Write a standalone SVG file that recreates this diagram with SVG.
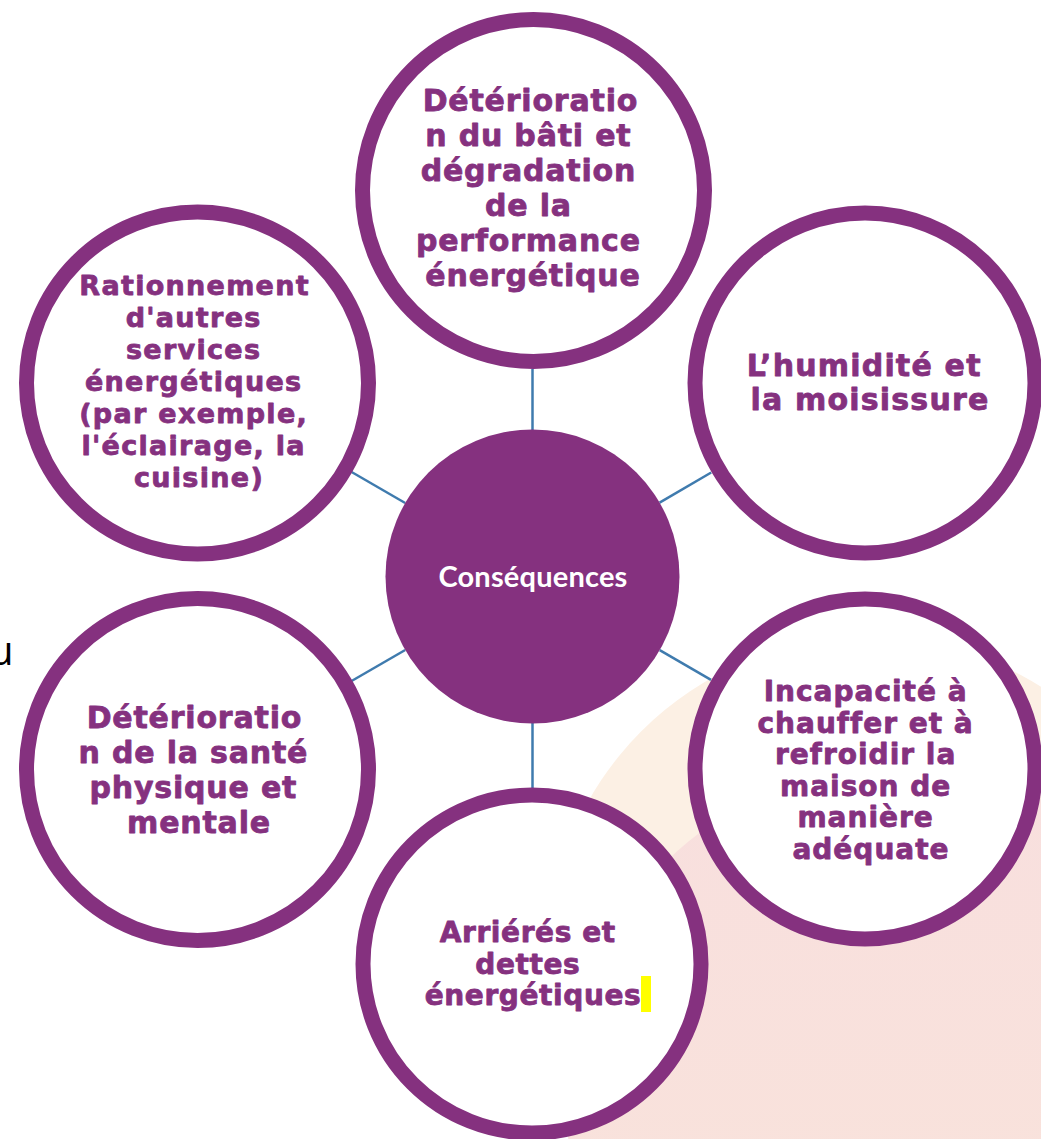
<svg xmlns="http://www.w3.org/2000/svg" width="1041" height="1139" viewBox="0 0 1041 1139">
  <defs>
    <style>
      .ring { fill: #ffffff; stroke: #85317F; stroke-width: 15; }
      .hub { fill: #85317F; }
      .conn { stroke: #3F7BAE; stroke-width: 2.5; fill: none; }
      .lbl { font-family: "DejaVu Sans", Verdana, sans-serif; font-weight: bold; fill: #85317F; stroke: #85317F; stroke-width: 0.8; stroke-linejoin: round; text-anchor: middle; }
      .hubtxt { font-family: Lato, "Open Sans", "Liberation Sans", sans-serif; font-weight: bold; fill: #ffffff; text-anchor: middle; font-size: 29px; letter-spacing: 0.2px; }
    </style>
    <linearGradient id="pinkGrad" x1="0" y1="0" x2="0" y2="1">
      <stop offset="0" stop-color="#F8DFDE"/>
      <stop offset="1" stop-color="#F9E4DA"/>
    </linearGradient>
  </defs>

  <rect x="0" y="0" width="1041" height="1139" fill="#ffffff"/>

  <g id="background">
    <circle cx="869" cy="959" r="322" fill="#FCF0E4"/>
    <circle cx="900" cy="1100" r="334" fill="url(#pinkGrad)"/>
  </g>

  <text x="-11" y="665" font-family="'Open Sans', 'Liberation Sans', sans-serif" font-size="40" fill="#000000">u</text>

  <g id="connectors">
    <line class="conn" x1="532.5" y1="369" x2="532.5" y2="430"/>
    <line class="conn" x1="532.5" y1="723" x2="532.5" y2="788"/>
    <line class="conn" x1="659.6" y1="502.6" x2="711.2" y2="472.5"/>
    <line class="conn" x1="659.7" y1="650.1" x2="711" y2="679.8"/>
    <line class="conn" x1="405.2" y1="503" x2="351.6" y2="472"/>
    <line class="conn" x1="405.2" y1="650" x2="351.6" y2="681"/>
  </g>

  <g id="node-center">
    <circle class="hub" cx="532.5" cy="576.5" r="147"/>
    <text class="hubtxt" x="533" y="587">Conséquences</text>
  </g>

  <g id="node-top">
    <circle class="ring" cx="533.5" cy="190.5" r="171"/>
    <text class="lbl" font-size="30" letter-spacing="0.8">
      <tspan x="536" y="111">Détérioratio</tspan>
      <tspan x="534" y="146">n du bâti et</tspan>
      <tspan x="534" y="181">dégradation</tspan>
      <tspan x="534" y="216">de la</tspan>
      <tspan x="534" y="251">performance</tspan>
      <tspan x="533" y="286">énergétique</tspan>
    </text>
  </g>

  <g id="node-right-upper">
    <circle class="ring" cx="865" cy="383" r="170"/>
    <text class="lbl" font-size="30" letter-spacing="1.2">
      <tspan x="870" y="376">L’humidité et</tspan>
      <tspan x="870" y="410">la moisissure</tspan>
    </text>
  </g>

  <g id="node-right-lower">
    <circle class="ring" cx="865" cy="769" r="170"/>
    <text class="lbl" font-size="28" letter-spacing="1">
      <tspan x="871" y="701">Incapacité à</tspan>
      <tspan x="871" y="732.5">chauffer et à</tspan>
      <tspan x="871" y="764">refroidir la</tspan>
      <tspan x="871" y="795.5">maison de</tspan>
      <tspan x="871" y="827">manière</tspan>
      <tspan x="871" y="858.5">adéquate</tspan>
    </text>
  </g>

  <g id="node-bottom">
    <circle class="ring" cx="532" cy="964" r="169"/>
    <text class="lbl" font-size="28" letter-spacing="0.6">
      <tspan x="533" y="942">Arriérés et</tspan>
      <tspan x="533" y="973.5">dettes</tspan>
      <tspan x="533" y="1005">énergétiques</tspan>
    </text>
    <rect x="641" y="976" width="10" height="36" fill="#FFFF00"/>
  </g>

  <g id="node-left-lower">
    <circle class="ring" cx="197.5" cy="769.5" r="171"/>
    <text class="lbl" font-size="30" letter-spacing="0.8">
      <tspan x="200" y="728">Détérioratio</tspan>
      <tspan x="199" y="763">n de la santé</tspan>
      <tspan x="199" y="798">physique et</tspan>
      <tspan x="199" y="833">mentale</tspan>
    </text>
  </g>

  <g id="node-left-upper">
    <circle class="ring" cx="197.5" cy="383" r="171"/>
    <text class="lbl" font-size="27" letter-spacing="1.3">
      <tspan x="200" y="295">Rationnement</tspan>
      <tspan x="199" y="327">d'autres</tspan>
      <tspan x="199" y="359">services</tspan>
      <tspan x="199" y="391">énergétiques</tspan>
      <tspan x="199" y="423">(par exemple,</tspan>
      <tspan x="199" y="455">l'éclairage, la</tspan>
      <tspan x="199" y="487">cuisine)</tspan>
    </text>
  </g>
</svg>
